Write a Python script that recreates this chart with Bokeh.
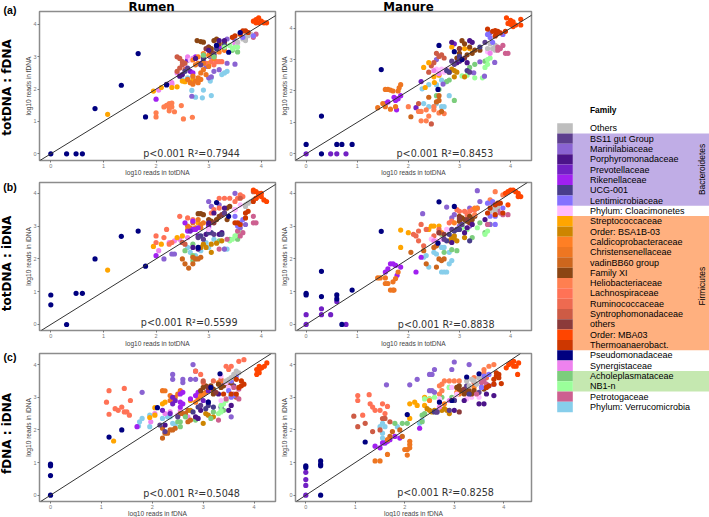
from bokeh.plotting import figure
from bokeh.layouts import column, row
from bokeh.models import Range1d, Label, Slope, ColumnDataSource, FixedTicker
from bokeh.embed import file_html
from bokeh.resources import INLINE

families = ["Others","BS11 gut Group","Marinilabiaceae","Porphyromonadaceae","Prevotellaceae","Rikenellaceae","UCG-001","Lentimicrobiaceae","Phylum: Cloacimonetes","Streptococcaceae","Order: BSA1B-03","Caldicoprobacteraceae","Christensenellaceae","vadinBB60 group","Family XI","Heliobacteriaceae","Lachnospiraceae","Ruminococcaceae","Syntrophomonadaceae","others","Order: MBA03","Thermoanaerobact.","Pseudomonadaceae","Synergistaceae","Acholeplasmataceae","NB1-n","Petrotogaceae","Phylum: Verrucomicrobia"]
colors = ["#BEBEBE","#5D3F8E","#8A63D2","#4B1489","#7120C4","#A020F0","#483D8B","#8470FF","#FFBBFF","#FFA500","#CD8500","#FF7F24","#EE7621","#CD661D","#8B4513","#FF7F50","#FF7256","#EE6A50","#CD5B45","#8B3A3A","#FF4500","#CD3700","#000080","#EE82EE","#7CCD7C","#9AFF9A","#CD6090","#87CEEB"]

rumen_a = [
 (27,[(2.68,1.96),(2.9,1.97),(2.75,1.75),(2.88,1.73),(3.05,1.8),(3.05,2.35),(3.03,2.25),(3.25,2.45),(3.3,2.5),(3.35,2.55),(2.5,2.3),(2.6,2.35),(2.7,2.4)]),
 (2,[(2.68,1.78),(3.03,3.0),(3.35,2.8),(3.5,2.77),(3.2,2.6),(3.1,2.55),(3.0,2.35),(3.05,2.38),(2.95,2.7),(3.35,3.55),(3.5,3.5)]),
 (4,[(2.6,2.9),(2.65,2.55),(2.9,2.85),(3.0,3.3),(3.15,3.35)]),
 (5,[(2.0,1.69),(2.75,3.0),(2.7,2.5),(2.85,2.8),(3.2,3.3)]),
 (23,[(2.4,2.5),(2.3,2.2),(2.3,2.15),(2.05,1.97),(2.6,3.0),(2.7,2.95),(3.5,3.4)]),
 (8,[(2.55,2.7),(2.65,2.9),(3.55,3.4),(3.1,3.0)]),
 (9,[(1.08,1.22),(1.95,1.94),(2.1,2.05),(2.3,2.05),(2.4,2.07),(2.5,2.25),(2.55,2.23),(2.7,2.3),(3.0,2.8),(3.1,3.0)]),
 (15,[(2.0,1.27),(2.0,1.14),(2.15,1.45),(2.2,1.5),(2.25,1.55),(2.3,1.57),(2.25,1.42),(2.25,1.33),(2.3,1.45),(2.35,1.3),(2.48,1.49),(2.52,1.08),(2.69,1.13)]),
 (16,[(2.95,2.8),(3.05,2.85),(3.15,2.85),(3.2,2.85),(3.25,2.85),(3.1,2.75)]),
 (18,[(2.4,3.0),(2.45,2.95),(2.5,2.85),(2.5,2.75),(2.55,2.8),(2.45,2.65),(2.4,2.55),(2.55,2.6)]),
 (12,[(2.6,2.3),(2.65,2.2),(2.7,2.15),(2.75,2.25),(2.8,2.35),(2.85,2.3),(2.8,2.2),(2.7,2.4),(2.85,2.5),(2.9,2.6),(2.95,2.45),(2.75,2.75),(2.8,2.8),(2.9,2.8),(3.0,2.7)]),
 (11,[(2.7,2.9),(2.8,3.0),(2.9,3.1),(3.0,3.05),(3.1,2.95),(3.2,3.15),(3.3,3.2)]),
 (14,[(2.78,3.5),(2.85,3.47),(2.9,3.45),(3.0,3.3),(3.05,3.25),(3.1,3.5),(3.15,3.55),(3.2,3.4),(3.3,3.45),(3.3,3.3),(3.05,3.15)]),
 (19,[(3.1,3.1),(2.95,3.25)]),
 (3,[(2.2,2.15),(2.45,2.4),(2.5,2.45),(2.75,2.95),(3.0,3.2),(3.2,3.5),(3.3,3.5)]),
 (6,[(2.55,2.55),(2.9,2.95),(3.15,3.25),(3.3,3.35)]),
 (1,[(2.6,2.65),(2.85,2.75),(3.1,3.05)]),
 (24,[(2.9,3.05),(3.1,3.0),(3.45,3.2),(3.55,3.15)]),
 (25,[(3.3,3.3),(3.4,3.35),(3.45,3.25),(3.5,3.3),(3.55,3.3)]),
 (26,[(3.75,3.75),(3.9,3.7),(3.85,3.6),(3.7,3.55)]),
 (0,[(3.55,3.45),(3.65,3.55),(3.7,3.6),(3.75,3.65),(3.8,3.7),(3.7,3.5)]),
 (7,[(3.6,3.75),(3.65,3.6),(3.85,3.65)]),
 (21,[(3.45,3.6),(3.5,3.65),(3.6,3.7),(3.65,3.8),(3.7,3.8),(3.75,3.75)]),
 (20,[(3.85,4.1),(3.9,4.15),(3.95,4.2),(3.9,4.05),(3.95,4.05),(4.0,4.1),(4.05,4.05),(4.1,4.05)]),
 (22,[(0,0),(0.3,0),(0.48,0),(0.6,0),(0.84,1.4),(1.34,2.12),(1.66,3.1),(1.8,1.14),(3.38,3.14),(3.15,3.35),(2.2,2.13),(3.6,3.75)]),
]

manure_a = [
 (27,[(2.27,2.07),(2.4,1.5),(2.5,1.5),(2.65,1.5),(2.7,1.5),(2.8,1.85),(2.4,2.2),(2.55,2.2),(2.65,2.35),(2.75,2.3),(2.3,1.6),(2.55,1.6)]),
 (24,[(2.6,2.05),(2.55,1.85),(2.9,1.7),(2.8,2.35),(2.75,2.3),(3.2,2.75),(3.3,2.85),(3.5,2.95)]),
 (25,[(3.05,2.48),(3.15,2.5),(3.3,2.42),(3.45,2.42),(3.5,2.75),(3.55,2.85),(3.6,3.05),(3.55,3.0)]),
 (2,[(3.49,2.47),(3.69,2.91),(3.4,2.93),(3.28,2.58),(2.68,2.22),(2.55,3.0),(3.6,3.85)]),
 (4,[(0,0),(0.48,0),(0.6,0),(0.78,0),(2.15,1.47),(2.25,2.3),(2.9,3.5)]),
 (5,[(1.55,1.6),(1.6,1.65),(1.72,1.8),(1.78,1.75),(1.85,1.85),(1.8,1.75),(1.75,1.7),(1.77,1.4)]),
 (12,[(1.4,1.47),(1.5,1.6),(1.55,1.5),(1.65,1.42),(1.75,1.5),(1.55,2.05),(1.6,2.05),(1.65,2.03),(1.7,2.0),(1.85,2.2),(1.82,2.1),(1.8,2.0)]),
 (15,[(2.0,1.5),(2.2,1.35),(2.25,1.05),(2.35,1.05),(2.4,1.2),(2.5,1.5),(2.35,1.4),(2.25,1.35),(2.5,1.4),(2.6,1.3),(2.7,1.28)]),
 (18,[(2.2,1.6),(2.45,0.95),(2.55,3.2),(2.6,3.1),(2.5,2.9),(2.45,2.8),(2.4,2.6),(2.65,3.15),(2.7,3.05)]),
 (13,[(2.05,1.18),(2.4,1.8),(2.55,1.65),(2.6,1.7),(2.65,1.35),(2.6,1.85)]),
 (9,[(2.33,2.11),(2.51,2.27),(2.3,2.75),(2.4,2.9),(2.85,3.4),(3.0,3.35),(3.1,3.35),(3.2,3.35),(2.5,2.45),(2.6,2.5)]),
 (10,[(2.8,2.6),(2.85,2.7),(2.9,2.65),(2.95,2.6),(2.9,2.45),(3.1,2.45)]),
 (8,[(3.55,3.25),(2.55,2.7),(2.65,2.7),(2.75,2.7),(2.7,2.6),(3.6,3.3)]),
 (23,[(3.6,3.2),(2.5,2.65),(2.6,2.55)]),
 (14,[(3.05,3.6),(3.1,3.5),(3.2,3.4),(3.3,3.3),(3.0,3.2),(2.95,3.05),(3.4,3.3),(3.25,3.2),(3.15,3.15),(3.05,3.0)]),
 (19,[(3.0,3.35),(3.1,3.05)]),
 (3,[(2.85,3.55),(3.2,3.6),(3.25,3.55),(3.0,2.95),(2.95,2.9),(3.15,2.9)]),
 (6,[(2.75,2.65),(2.8,2.6),(3.0,3.1),(3.15,2.65),(3.4,3.4)]),
 (1,[(2.9,2.85),(3.2,2.6),(2.85,2.95),(3.0,3.0),(3.5,3.55)]),
 (0,[(3.55,3.35),(3.6,3.5),(3.65,3.35),(3.7,3.3),(3.7,3.45)]),
 (7,[(3.55,3.8),(3.6,3.7),(3.85,3.8),(3.65,3.55)]),
 (26,[(3.75,3.4),(3.8,3.35),(3.85,3.45),(3.9,3.2),(3.95,3.2),(3.75,3.3)]),
 (21,[(3.55,3.97),(3.65,3.9),(3.7,3.92),(3.75,3.9),(3.72,3.8),(3.8,3.85),(3.7,3.75),(3.9,3.9)]),
 (20,[(3.92,4.33),(4.0,4.25),(3.95,4.15),(4.0,4.12),(4.05,4.2),(4.1,4.1),(4.2,4.28),(4.2,4.1),(4.05,4.05)]),
 (22,[(0,0.3),(0.3,1.2),(0.3,0),(0.6,0.3),(0.7,0.3),(0.9,0.3),(1.47,2.68),(2.6,3.45),(2.58,2.05),(2.9,3.25),(3.05,3.0)]),
]

rumen_b = [
 (27,[(2.6,2.35),(2.65,2.2),(2.75,2.1),(2.85,2.25),(3.0,2.35),(3.3,2.3),(3.35,2.3),(2.95,2.5),(3.1,2.6)]),
 (24,[(2.55,2.25),(2.7,2.45),(2.7,1.95),(3.2,2.55),(3.4,2.6),(3.55,2.6),(2.7,2.1)]),
 (25,[(3.4,2.55),(3.45,2.6),(3.5,2.7),(3.55,2.75),(3.6,2.8)]),
 (26,[(3.2,2.3),(3.35,2.6),(3.55,2.85),(3.6,2.7),(3.85,3.1),(3.85,3.3),(3.9,3.1),(3.65,2.8)]),
 (2,[(2.15,2.0),(2.3,2.15),(2.35,2.15),(3.5,4.0),(3.2,3.65),(3.05,3.6),(3.0,3.75),(3.6,2.95),(3.3,2.3),(3.7,3.05)]),
 (23,[(2.05,2.25),(2.25,2.5),(2.35,2.55),(2.45,2.6),(2.5,2.5),(2.6,2.65),(3.0,2.95),(3.5,3.5)]),
 (9,[(1.08,1.66),(1.95,2.38),(2.1,2.45),(2.4,2.65),(2.5,2.7),(2.6,2.9),(2.8,3.1)]),
 (16,[(2.0,2.7),(2.0,2.5),(2.15,2.65),(2.25,2.45),(2.3,2.5),(2.2,2.9),(2.45,3.3),(2.7,3.2),(2.6,3.25),(3.2,3.85),(3.3,3.85),(3.4,3.85),(3.1,3.5),(3.05,3.4),(3.2,3.55),(3.6,3.95),(3.65,3.9),(3.55,3.85),(3.5,3.75)]),
 (12,[(2.7,3.1),(2.8,3.2),(2.85,3.05),(2.9,3.1),(2.75,2.95),(2.85,2.95),(2.6,3.0),(2.65,2.95)]),
 (13,[(2.5,2.0),(2.55,1.85),(2.62,1.72),(2.7,1.85),(2.75,2.0),(2.8,2.0),(2.85,2.05),(2.7,2.05)]),
 (10,[(2.85,2.35),(2.9,2.45),(2.95,2.35),(3.05,2.2),(3.05,2.45),(3.15,2.48),(3.25,2.55)]),
 (14,[(2.8,3.38),(2.85,3.38),(2.9,3.35),(3.0,3.2),(3.05,3.15),(3.15,3.2),(3.2,3.3),(3.3,3.4),(3.35,3.55),(3.35,3.2),(3.4,3.6)]),
 (19,[(3.1,3.1),(3.25,3.35)]),
 (5,[(2.0,2.1),(2.6,2.85),(2.7,2.9),(2.75,2.9),(2.8,2.95),(2.55,3.1),(2.7,3.15),(3.0,3.0)]),
 (4,[(2.65,2.85),(2.8,2.7),(3.0,3.05)]),
 (3,[(2.7,2.35),(2.8,2.3),(3.0,3.1),(2.95,2.75),(3.2,2.75),(3.25,2.8),(3.1,3.4),(3.3,3.55)]),
 (6,[(2.5,2.5),(2.85,2.7),(3.0,2.8),(3.05,2.8),(3.25,2.75)]),
 (1,[(2.8,2.65),(2.9,2.6),(3.1,2.75),(3.3,3.4)]),
 (18,[(3.85,4.05),(3.95,4.0),(2.5,2.5),(2.55,2.45),(3.6,3.85)]),
 (8,[(3.0,2.9),(3.6,3.65),(3.5,3.5)]),
 (0,[(3.7,3.65),(3.75,3.7),(3.8,3.75),(3.85,3.8),(3.7,3.6)]),
 (7,[(3.55,3.0),(3.6,3.1),(3.65,3.2),(3.5,3.3)]),
 (21,[(3.5,3.1),(3.55,3.1),(3.6,3.05),(3.7,3.4),(3.75,3.45),(3.7,3.25),(3.85,3.75),(3.9,3.85)]),
 (20,[(3.85,4.1),(3.9,4.05),(3.95,3.95),(4.0,3.9),(4.05,3.8),(4.1,3.75),(3.9,3.85),(4.0,4.0)]),
 (22,[(0,0.9),(0,0.6),(0.3,0),(0.48,0.95),(0.6,0.95),(0.84,2.0),(1.34,2.69),(1.66,2.85),(1.8,1.78),(3.15,3.72),(3.38,3.3),(2.8,2.35)]),
]

manure_b = [
 (27,[(2.3,2.05),(2.35,2.1),(2.4,1.75),(2.5,2.2),(2.55,2.15),(2.65,1.6),(2.7,1.6),(2.75,1.6),(2.8,1.85),(2.85,1.95),(2.7,2.35),(2.65,2.35),(2.8,2.2)]),
 (24,[(2.7,2.2),(2.85,2.28),(2.95,2.25),(2.65,2.75),(3.05,3.0),(3.25,2.65),(3.4,3.1),(3.5,2.8)]),
 (25,[(3.05,2.95),(3.15,2.9),(3.35,2.95),(3.5,2.75),(3.55,2.85),(3.6,3.05)]),
 (2,[(2.28,3.38),(2.75,3.58),(2.85,3.25),(2.9,3.35),(3.2,3.55),(3.2,3.0),(3.35,3.55),(3.4,3.75),(3.35,4.08),(3.6,3.05),(3.65,3.7),(3.0,3.0)]),
 (4,[(0,0.3),(0,0),(0.3,0.3),(0.3,0.48),(0.48,0.3),(0.6,0.7),(0.78,0)]),
 (5,[(1.55,1.6),(1.6,1.7),(1.65,1.85),(1.7,1.85),(1.75,1.8),(1.85,1.75),(1.78,1.5),(2.15,1.6),(2.25,2.05)]),
 (12,[(1.4,1.42),(1.45,1.42),(1.55,1.42),(1.55,1.25),(1.6,1.25),(1.65,1.05),(1.7,1.05),(1.72,1.05),(1.7,1.3),(1.8,1.6),(1.75,1.4)]),
 (9,[(1.85,2.88),(1.85,2.35),(2.0,2.8),(2.45,3.0),(2.5,3.0),(2.6,3.0),(2.4,2.9)]),
 (17,[(2.1,2.75),(2.2,2.85),(2.25,3.05),(2.35,2.9),(2.2,2.55),(2.3,2.4),(2.15,2.7),(2.5,2.7),(2.6,2.8),(2.6,2.9)]),
 (13,[(2.05,2.2),(2.3,2.25),(2.5,2.35),(2.55,2.4),(2.35,1.85),(2.55,1.75),(2.6,2.0),(2.65,1.95),(2.7,2.0)]),
 (16,[(2.95,3.5),(3.0,3.45),(3.1,3.45),(3.15,3.35),(3.2,3.45),(3.25,3.5),(3.3,3.5),(2.8,3.1),(2.85,3.15)]),
 (11,[(2.65,2.8),(2.9,3.1),(3.0,3.2),(3.3,3.55),(3.35,3.55)]),
 (10,[(2.8,2.55),(2.85,2.65),(2.9,2.6),(2.95,2.55),(2.9,2.7),(3.1,2.65)]),
 (8,[(2.45,2.6),(2.55,2.55),(2.65,2.6),(2.75,2.9),(3.0,2.9),(3.2,3.05),(3.6,3.4)]),
 (23,[(2.5,2.55),(2.7,2.6),(2.95,2.9)]),
 (14,[(3.0,3.3),(3.05,3.25),(3.1,3.2),(3.15,3.15),(3.2,3.1),(3.25,3.2),(3.3,3.3),(3.0,3.15),(3.2,3.3)]),
 (19,[(3.0,3.25),(3.15,3.2),(2.6,2.8),(2.7,2.75)]),
 (6,[(2.75,2.55),(2.8,2.75),(2.9,2.85),(2.95,2.9),(3.0,2.9),(3.2,2.55)]),
 (3,[(2.85,2.5),(3.1,2.8),(3.15,2.95),(3.25,3.05),(3.5,3.2)]),
 (1,[(2.7,2.6),(2.85,2.9),(3.05,3.05)]),
 (15,[(3.7,4.05),(3.85,3.95),(3.6,3.8),(3.3,3.35)]),
 (26,[(3.55,3.05),(3.8,3.4),(3.85,3.35),(3.95,3.35),(3.7,3.6),(3.75,3.5)]),
 (0,[(3.6,3.45),(3.65,3.55),(3.7,3.5),(3.75,3.6),(3.7,3.4)]),
 (7,[(3.55,3.7),(3.65,3.75),(3.7,3.3),(3.85,3.55),(3.7,3.05),(3.6,3.3)]),
 (21,[(3.55,3.4),(3.7,3.35),(3.75,3.7),(3.8,3.7),(3.85,3.4),(3.6,3.55),(3.7,3.65)]),
 (20,[(3.9,4.0),(3.95,4.05),(4.0,4.1),(4.05,4.1),(4.1,4.05),(4.15,4.0),(4.15,3.9),(4.2,3.9),(3.95,3.65)]),
 (22,[(0,0.95),(0,0.9),(0.3,1.62),(0.3,0.85),(0.6,0.9),(0.6,0.78),(0.7,0),(0.9,1.05),(1.47,2.84),(2.6,3.74),(2.9,3.6),(2.58,2.48)]),
]

rumen_c = [
 (27,[(1.73,2.12),(1.75,2.25),(1.8,2.35),(1.95,2.1),(1.95,2.45),(2.2,2.35),(2.35,2.4),(2.4,2.2),(2.45,2.15),(2.3,2.4)]),
 (23,[(1.97,2.25),(2.05,2.5),(2.25,2.5),(2.35,2.55),(2.55,2.6),(2.5,2.45),(2.7,2.4)]),
 (2,[(1.8,3.15),(2.4,3.7),(2.4,3.55),(2.6,3.55),(2.6,3.45),(2.75,3.55),(2.8,4.0),(2.85,3.8),(2.85,3.55),(3.55,2.4),(3.4,3.4)]),
 (9,[(1.24,1.66),(1.95,2.38),(2.05,2.45),(2.05,2.68),(2.2,2.8),(2.25,2.85),(2.75,2.9)]),
 (16,[(1.1,2.85),(1.15,3.2),(1.15,2.48),(1.27,2.65),(1.33,2.6),(1.4,2.7),(1.45,3.27),(1.45,2.55),(1.5,2.55),(1.55,2.45),(1.57,2.9),(2.85,3.8),(2.95,3.7),(3.45,3.95),(3.5,3.85),(3.55,3.95),(3.7,4.1),(3.8,4.15)]),
 (12,[(2.2,3.2),(2.25,3.2),(2.35,3.05),(2.35,2.9),(2.4,2.95),(2.5,3.1),(2.45,3.0),(2.55,3.2),(2.9,2.95),(3.0,3.1),(3.05,3.15),(3.2,3.2)]),
 (13,[(2.2,1.75),(2.25,1.9),(2.3,1.9),(2.35,2.0),(2.4,2.0),(2.45,2.05),(2.2,2.05),(2.7,2.25),(2.75,2.3),(2.85,2.35),(2.65,2.5),(2.6,2.5),(2.55,2.5),(2.7,2.6)]),
 (10,[(3.0,2.2),(3.05,2.5),(3.1,2.45),(3.2,2.4),(2.75,2.6)]),
 (24,[(2.55,2.1),(2.55,2.25),(2.5,2.25),(2.65,2.4),(2.85,2.3),(3.15,2.35),(3.2,2.55),(3.4,2.6)]),
 (5,[(1.7,2.1),(2.55,3.1),(2.6,3.15),(2.55,2.85),(2.6,2.8),(2.75,2.95),(2.85,3.05),(2.9,3.15),(2.55,2.7)]),
 (4,[(2.4,3.0),(2.45,2.9),(2.4,2.8),(2.2,2.6),(2.35,2.5),(3.1,3.2),(3.0,2.9)]),
 (3,[(2.25,2.15),(2.85,2.4),(2.9,2.35),(2.95,2.6),(3.3,3.1),(3.5,2.6),(3.55,2.75)]),
 (6,[(2.8,2.55),(2.9,2.7),(3.05,2.65),(3.1,2.75),(3.2,2.7),(3.35,2.7)]),
 (1,[(2.15,2.15),(2.5,2.4),(2.95,2.75),(3.1,2.85),(3.6,3.35),(2.25,1.95)]),
 (11,[(2.95,3.05),(3.0,3.1),(3.2,3.2),(3.3,3.45),(3.35,3.5),(2.85,2.85)]),
 (14,[(2.95,3.2),(3.0,3.3),(3.05,3.35),(3.15,3.35),(3.2,3.25),(3.3,3.4),(3.4,3.35),(3.5,3.4),(3.55,3.45),(3.2,3.1),(3.35,3.3)]),
 (19,[(3.1,3.3),(3.25,3.15),(3.55,3.05)]),
 (17,[(3.2,3.5),(3.35,3.55),(3.0,3.45)]),
 (18,[(3.0,3.5),(3.65,3.0)]),
 (25,[(3.3,2.5),(3.35,2.55),(3.35,2.75),(3.4,2.8),(3.45,2.9),(3.35,2.6)]),
 (26,[(3.3,2.3),(3.6,3.3),(3.7,2.95),(3.6,3.1),(3.45,2.95),(3.7,3.25)]),
 (8,[(3.35,3.65),(3.45,3.45),(3.5,3.3),(3.35,2.9)]),
 (7,[(3.5,3.2),(3.55,3.5),(3.6,3.05),(3.65,3.65),(3.55,3.0)]),
 (0,[(3.45,3.5),(3.5,3.55),(3.55,3.6),(3.6,3.7),(3.65,3.8),(3.7,3.75),(3.6,3.6)]),
 (21,[(3.65,3.1),(3.7,3.3),(3.75,3.35),(3.75,3.5),(3.8,3.4),(3.65,3.55),(3.4,3.1),(3.55,3.1)]),
 (20,[(4.05,3.7),(4.1,3.75),(4.1,3.85),(4.15,3.9),(4.2,3.95),(4.25,4.05),(4.05,3.85),(4.1,3.95)]),
 (22,[(0,0.95),(0,0.9),(0,0.6),(0,0),(1.15,1.78),(1.4,2.0),(2.1,2.68),(3.15,3.3),(3.33,3.72),(3.1,2.85)]),
]

manure_c = [
 (27,[(1.5,2.1),(1.55,2.2),(1.6,2.1),(1.55,1.9),(1.55,1.75),(1.85,2.1),(2.3,2.2),(2.35,2.3),(1.6,1.6)]),
 (24,[(1.8,2.2),(1.95,2.2),(2.05,2.2),(2.35,2.25),(2.4,2.5),(2.35,2.45),(2.75,3.0),(2.95,3.0),(2.9,3.3)]),
 (2,[(1.63,3.38),(2.1,3.38),(2.25,3.55),(2.5,3.7),(2.55,3.7),(2.6,3.85),(2.95,3.85),(3.0,4.08),(3.3,4.0),(2.5,3.2),(2.55,3.2),(2.6,3.15)]),
 (4,[(0,0.7),(0,0.48),(0,0.3),(0,0)]),
 (5,[(1.4,1.5),(1.5,1.45),(1.6,1.6),(1.65,1.65),(1.7,1.7),(1.8,1.8),(1.9,1.75),(2.3,2.05),(1.55,1.6)]),
 (16,[(1.05,3.05),(1.05,2.9),(1.28,3.08),(1.3,2.8),(1.35,2.7),(1.4,2.6),(1.15,2.45),(1.5,2.6),(1.55,2.8),(1.6,2.5),(1.65,2.72)]),
 (18,[(0.97,2.42),(1.05,2.1),(1.2,2.2),(1.35,1.95),(1.5,2.0),(1.6,2.35),(1.7,2.25),(1.55,2.35)]),
 (13,[(1.75,1.95),(1.7,1.8),(1.9,2.0),(1.95,1.8)]),
 (12,[(1.4,1.05),(1.5,1.05),(1.65,1.25),(2.05,1.4),(2.1,1.45),(2.05,1.23),(2.1,1.55),(2.1,1.65),(2.0,1.4),(1.65,1.7)]),
 (9,[(2.1,2.35),(2.1,2.8),(2.2,2.85),(2.25,2.75),(2.4,2.75),(2.4,3.0),(2.5,2.95),(2.7,2.9)]),
 (25,[(2.6,3.0),(2.7,2.95),(2.9,3.3),(3.05,3.1),(2.4,2.95),(2.5,2.95)]),
 (15,[(2.7,3.35),(2.75,3.4),(2.8,3.5),(2.9,3.5),(3.0,3.5),(3.1,3.5),(2.7,3.1),(2.75,3.2),(3.4,3.6),(3.5,3.6),(3.6,3.75),(3.7,3.95),(3.6,3.85),(3.8,4.0)]),
 (10,[(2.45,2.65),(2.5,2.6),(2.55,2.55),(2.75,2.6),(2.8,2.65),(2.85,2.6),(2.9,2.5),(2.6,2.6)]),
 (11,[(2.5,2.9),(2.8,2.8),(3.05,3.15),(3.1,3.1),(3.4,3.3)]),
 (8,[(3.0,2.95),(3.05,3.1),(3.25,2.95),(3.35,3.0),(2.7,2.95),(3.5,3.0),(2.95,3.3)]),
 (23,[(2.7,2.7),(2.9,2.9),(3.3,3.1)]),
 (14,[(3.05,3.3),(3.1,3.35),(3.15,3.2),(3.2,3.1),(3.25,3.15),(3.3,3.2),(3.35,3.1),(3.4,3.2),(3.55,3.3),(3.6,3.25),(3.1,3.25)]),
 (19,[(3.2,3.25),(3.1,2.55)]),
 (17,[(3.4,3.45),(3.65,3.6)]),
 (3,[(3.0,2.6),(3.0,2.9),(3.2,2.9),(3.5,2.8),(3.6,2.8),(3.65,3.1),(3.8,3.05)]),
 (6,[(2.6,2.55),(2.65,2.55),(3.0,2.9),(3.3,3.1)]),
 (1,[(2.65,2.55),(2.9,2.6),(3.25,3.35),(3.5,3.15)]),
 (26,[(3.45,3.1),(3.55,3.45),(3.6,3.5),(3.65,3.4)]),
 (0,[(3.25,3.5),(3.35,3.55),(3.4,3.5),(3.45,3.4),(3.5,3.6),(3.3,3.35)]),
 (7,[(3.6,3.65),(3.7,3.7),(3.7,3.35),(3.8,3.4),(3.55,3.3)]),
 (21,[(3.8,3.55),(3.85,3.65),(3.9,3.7),(3.9,3.6),(3.85,3.75),(3.8,3.4),(3.95,3.42),(3.65,3.3),(3.7,3.35)]),
 (20,[(4.05,3.9),(4.1,4.0),(4.15,4.05),(4.2,3.95),(4.25,3.95),(4.3,4.05),(4.2,4.1),(4.28,3.7)]),
 (22,[(0,0.9),(0,0.85),(0.3,1.05),(0.3,0.95),(0.3,0.9),(0.3,0),(1.2,1.63),(2.05,2.47),(2.7,2.85),(3.25,3.62),(3.5,3.72),(2.95,2.9)]),
]

stats = ["p<0.001 R²=0.7944","p<0.001 R²=0.8453","p<0.001 R²=0.5599","p<0.001 R²=0.8838","p<0.001 R²=0.5048","p<0.001 R²=0.8258"]

# Transparent page-sized canvas laid over the panels, so texts outside a panel's frame are not clipped
over = figure(width=709, height=517, output_backend="svg", toolbar_location=None,
              x_range=Range1d(0, 709), y_range=Range1d(517, 0), min_border=0,
              outline_line_color=None, border_fill_color=None, background_fill_color=None,
              margin=(-517, 0, 0, 0))
over.axis.visible = False
over.grid.visible = False

def add_text(x, y, text, size, font="DejaVu Sans", bold=True, angle=0, align="center", color="black"):
    over.add_layout(Label(x=x, y=y, x_units="canvas", y_units="canvas", text=text,
                          text_font=font, text_font_size=size, text_color=color,
                          text_font_style="bold" if bold else "normal",
                          angle=angle, angle_units="deg", text_align=align, text_baseline="middle"))

def panel(series, x0, y0, W, H, fl, fr, ft, fb, xr, yr, xlab, ylab, stat, stat_x, stat_y, xlab_y, ylab_x):
    p = figure(width=W, height=H, output_backend="svg", toolbar_location=None,
               x_range=Range1d(*xr), y_range=Range1d(*yr),
               min_border_left=fl-x0, min_border_right=x0+W-fr,
               min_border_top=ft-y0, min_border_bottom=y0+H-fb,
               outline_line_color="#8C8C8C", outline_line_width=1.5)
    p.grid.visible = False
    for ax in (p.xaxis[0], p.yaxis[0]):
        ax.ticker = FixedTicker(ticks=[0, 1, 2, 3, 4])
        ax.major_label_text_font = "Liberation Sans"
        ax.major_label_text_font_size = "5.5px"
        ax.major_label_text_color = "#777777"
        ax.major_label_standoff = 1
        ax.axis_line_color = None
        ax.major_tick_line_color = "#777777"
        ax.major_tick_in = 0
        ax.major_tick_out = 2
        ax.minor_tick_line_color = None
    for fam, pts in series:
        src = ColumnDataSource(dict(x=[a for a, b in pts], y=[b for a, b in pts]))
        p.scatter("x", "y", source=src, size=5.2, marker="circle", fill_color=colors[fam], line_color=None)
    p.add_layout(Slope(gradient=1, y_intercept=0, line_color="#333333", line_width=1))
    add_text(stat_x, stat_y, stat, "9.6px", bold=False, align="left", color="#333333")
    add_text((fl+fr)/2, xlab_y, xlab, "6.6px", font="Liberation Sans", bold=False, color="#444444")
    add_text(ylab_x, (ft+fb)/2, ylab, "6.6px", font="Liberation Sans", bold=False, angle=90, color="#444444")
    return p

XL, WL, XR, WR = 0, 277, 277, 263
FL1, FR1, FL2, FR2 = 39, 275, 295, 531

pa = panel(rumen_a, XL, 0, WL, 178, FL1, FR1, 11, 160, (-0.215, 4.27), (-0.207, 4.40), "log10 reads in totDNA", "log10 reads in fDNA", stats[0], 142.7, 153, 171.7, 28)
ma = panel(manure_a, XR, 0, WR, 178, FL2, FR2, 11, 160, (-0.208, 4.41), (-0.213, 4.53), "log10 reads in totDNA", "log10 reads in fDNA", stats[1], 396, 152.7, 171.7, 283.5)
pb = panel(rumen_b, XL, 178, WL, 170, FL1, FR1, 182, 330, (-0.215, 4.27), (-0.183, 4.33), "log10 reads in totDNA", "log10 reads in iDNA", stats[2], 140.3, 321.7, 342.7, 28)
mb = panel(manure_b, XR, 178, WR, 170, FL2, FR2, 182, 330, (-0.208, 4.41), (-0.184, 4.33), "log10 reads in totDNA", "log10 reads in iDNA", stats[3], 397.3, 323.7, 342.7, 283.5)
pc = panel(rumen_c, XL, 348, WL, 169, FL1, FR1, 353, 501, (-0.216, 4.42), (-0.193, 4.34), "log10 reads in fDNA", "log10 reads in iDNA", stats[4], 142.7, 493.3, 512.7, 28)
mc = panel(manure_c, XR, 348, WR, 169, FL2, FR2, 353, 501, (-0.208, 4.56), (-0.193, 4.34), "log10 reads in fDNA", "log10 reads in iDNA", stats[5], 396.7, 492, 512.7, 283.5)

add_text(151, 6, "Rumen", "11.8px")
add_text(408, 6, "Manure", "11.8px")
add_text(6.5, 87, "totDNA : fDNA", "12px", angle=90)
add_text(6.5, 263, "totDNA : iDNA", "12px", angle=90)
add_text(6.5, 433, "fDNA : iDNA", "12px", angle=90)
add_text(9.5, 9, "(a)", "10.5px", font="Liberation Sans")
add_text(9.5, 186.7, "(b)", "10.5px", font="Liberation Sans")
add_text(9.5, 356.7, "(c)", "10.5px", font="Liberation Sans")

lg = figure(width=169, height=517, output_backend="svg", toolbar_location=None,
            x_range=Range1d(540, 709), y_range=Range1d(517, 0),
            min_border=0, outline_line_color=None)
lg.axis.visible = False
lg.grid.visible = False
ROW_TOP, ROW_H = 122.7, 10.32
def ry(i):
    return ROW_TOP + i*ROW_H
bands = [(1, 8, "#C0ADE6"), (9, 22, "#FFB07F"), (24, 26, "#C5E8B0")]
lg.quad(left=[572.3]*3, right=[709]*3, top=[ry(a) for a, b, c in bands], bottom=[ry(b) for a, b, c in bands],
        fill_color=[c for a, b, c in bands], line_color=None)
idx = list(range(len(families)))
lg.quad(left=[556.7]*28, right=[572.3]*28, top=[ry(i) for i in idx], bottom=[ry(i+1) for i in idx],
        fill_color=colors, line_color=None)
for i in idx:
    add_text(589.5, ry(i)+ROW_H/2, families[i], "9px", font="Liberation Sans", bold=False, align="left")
add_text(589.5, 109, "Family", "8.4px", font="Liberation Sans", align="left")
add_text(701, 169, "Bacteroidetes", "8.4px", font="Liberation Sans", bold=False, angle=90)
add_text(701, 285.7, "Firmicutes", "8.4px", font="Liberation Sans", bold=False, angle=90)

grid = column(row(pa, ma, spacing=0), row(pb, mb, spacing=0), row(pc, mc, spacing=0), spacing=0)
root = column(row(grid, lg, spacing=0), over, spacing=0)
open("out.html", "w").write(file_html(root, INLINE))
